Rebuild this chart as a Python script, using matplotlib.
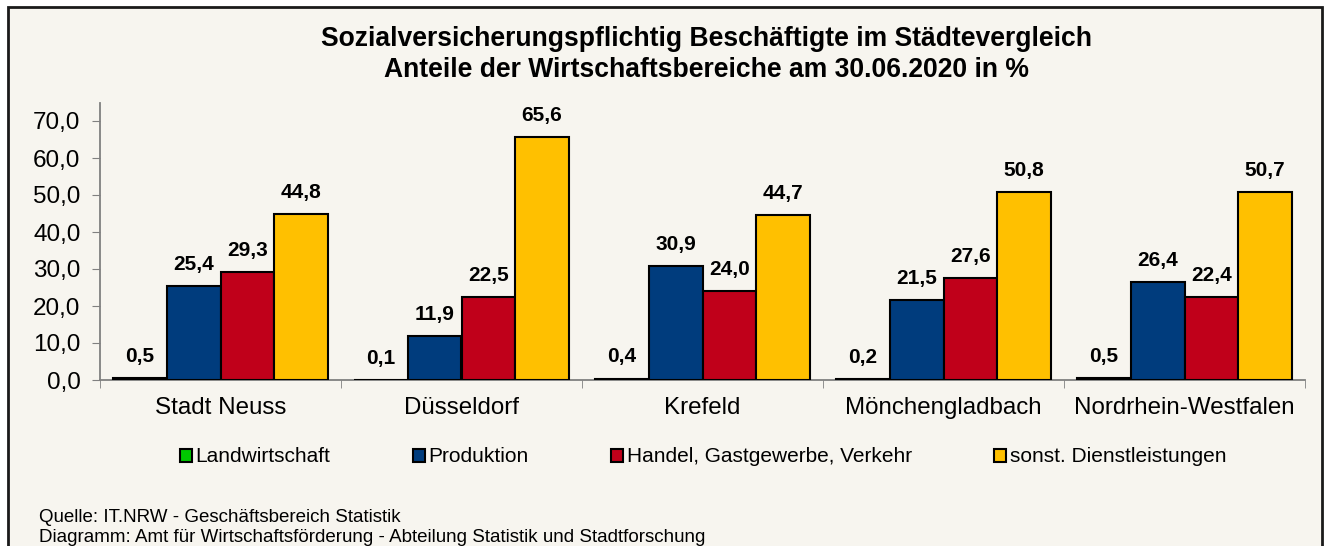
import matplotlib
matplotlib.use("Agg")
import matplotlib.pyplot as plt
import numpy as np
from matplotlib.patches import Rectangle

plt.rcParams['font.family'] = ['Liberation Sans', 'DejaVu Sans']

# data
cities = ['Stadt Neuss', 'Düsseldorf', 'Krefeld', 'Mönchengladbach', 'Nordrhein-Westfalen']
landwirtschaft = [0.5, 0.1, 0.4, 0.2, 0.5]
produktion = [25.4, 11.9, 30.9, 21.5, 26.4]
handel = [29.3, 22.5, 24.0, 27.6, 22.4]
dienstleistungen = [44.8, 65.6, 44.7, 50.8, 50.7]
series_names = ['Landwirtschaft', 'Produktion', 'Handel, Gastgewerbe, Verkehr', 'sonst. Dienstleistungen']
colors = ['#00C800', '#003C7D', '#C0001A', '#FFC000']
yticks = [0, 10, 20, 30, 40, 50, 60, 70]

W, H = 1325, 546
bg = '#F7F5EF'
fig = plt.figure(figsize=(W / 100, H / 100), dpi=100)
fig.patch.set_facecolor('white')

# chart frame (drawn below the axes)
fig.patches.append(Rectangle((8 / W, -0.05), 1314 / W, 1 - 7 / H + 0.05,
                             transform=fig.transFigure, facecolor=bg,
                             edgecolor='#1a1a1a', linewidth=2, zorder=-5))

ax = fig.add_axes([100 / W, 1 - 380 / H, 1205 / W, 277.5 / H])
ax.set_zorder(2)
ax.patch.set_alpha(0)

x = np.arange(len(cities))
w = 0.223
all_series = [landwirtschaft, produktion, handel, dienstleistungen]
for i, (vals, name, c) in enumerate(zip(all_series, series_names, colors)):
    bars = ax.bar(x + (i - 1.5) * w, vals, w, color=c, edgecolor='black',
                  linewidth=1.5, label=name, zorder=3)
    for b, v in zip(bars, vals):
        ax.annotate(f'{v:.1f}'.replace('.', ','),
                    (b.get_x() + b.get_width() / 2, v),
                    xytext=(0, 15.5), textcoords='offset points',
                    ha='center', va='center', fontsize=15, fontweight='bold')

ax.set_xlim(-0.5, len(cities) - 0.5)
ax.set_ylim(0, 75)
ax.set_yticks(yticks)
ax.set_yticklabels([f'{t:.1f}'.replace('.', ',') for t in yticks], fontsize=17.5)
ax.set_xticks(x)
ax.set_xticklabels(cities, fontsize=17.4)
ax.set_xticks(np.arange(-0.5, len(cities)), minor=True)
ax.tick_params(axis='x', which='major', length=0, pad=12)
ax.tick_params(axis='x', which='minor', length=6, color='#808080', direction='out')
ax.tick_params(axis='y', length=6, color='#808080', pad=8)
for s in ['top', 'right']:
    ax.spines[s].set_visible(False)
for s in ['left', 'bottom']:
    ax.spines[s].set_color('#808080')
    ax.spines[s].set_linewidth(1.3)

fig.text(706.5 / W, 1 - 46 / H, 'Sozialversicherungspflichtig Beschäftigte im Städtevergleich',
         ha='center', va='baseline', fontsize=19.1, fontweight='bold')
fig.text(707 / W, 1 - 77 / H, 'Anteile der Wirtschaftsbereiche am 30.06.2020 in %',
         ha='center', va='baseline', fontsize=19.1, fontweight='bold')

fig.legend(loc='center', bbox_to_anchor=(703 / W, 1 - 457 / H), ncol=4,
           frameon=False, fontsize=15, handlelength=0.6, handleheight=0.6,
           handletextpad=0.15, columnspacing=3.95)

fig.text(39 / W, 1 - 522 / H, 'Quelle: IT.NRW - Geschäftsbereich Statistik',
         ha='left', va='baseline', fontsize=13.5)
fig.text(39 / W, 1 - 542 / H, 'Diagramm: Amt für Wirtschaftsförderung - Abteilung Statistik und Stadtforschung',
         ha='left', va='baseline', fontsize=13.5)

fig.savefig('out.png', dpi=100, facecolor=fig.get_facecolor())
